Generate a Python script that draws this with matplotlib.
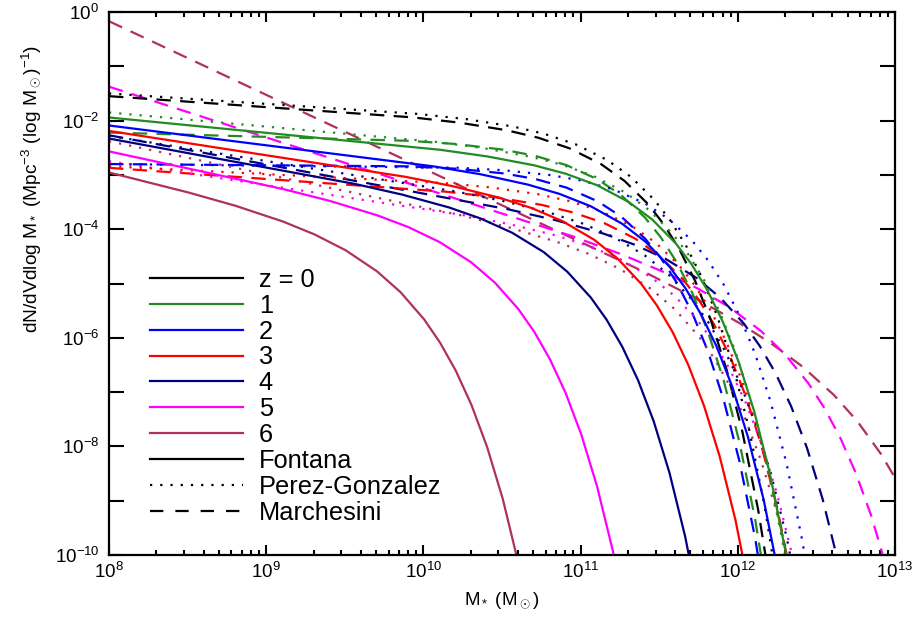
import numpy as np
import matplotlib
matplotlib.use("Agg")
import matplotlib.pyplot as plt
from matplotlib.ticker import LogLocator, NullLocator, FuncFormatter, NullFormatter
from matplotlib.lines import Line2D

plt.rcParams['font.family'] = ['Liberation Sans', 'DejaVu Sans']
plt.rcParams['mathtext.fontset'] = 'custom'
plt.rcParams['mathtext.rm'] = 'Liberation Sans'
plt.rcParams['mathtext.it'] = 'Liberation Sans:italic'
plt.rcParams['mathtext.bf'] = 'Liberation Sans:bold'

# ---------------- data (log10 M*, log10 phi) ----------------
redshift_labels = ['z = 0', '1', '2', '3', '4', '5', '6']
z_colors = ['#000000', '#228b22', '#0000ff', '#ff0000', '#000080', '#ff00ff', '#b03060']
survey_labels = ['Fontana', 'Perez-Gonzalez', 'Marchesini']

# Fontana (solid), z = 1..6
f1_logm = [8.0, 10.105, 10.405, 10.705, 10.905, 11.105, 11.305, 11.455, 11.605, 11.705, 11.805, 11.905, 12.005, 12.105, 12.205, 12.305, 12.405]
f1_logphi = [-1.943, -2.537, -2.659, -2.824, -2.978, -3.190, -3.497, -3.820, -4.260, -4.642, -5.116, -5.706, -6.442, -7.361, -8.512, -9.953, -11.762]
f2_logm = [8.0, 10.065, 10.365, 10.665, 10.865, 11.065, 11.265, 11.415, 11.565, 11.665, 11.765, 11.865, 11.965, 12.065, 12.165, 12.265]
f2_logphi = [-2.090, -2.843, -2.989, -3.179, -3.349, -3.578, -3.901, -4.236, -4.689, -5.079, -5.561, -6.159, -6.903, -7.830, -8.989, -10.439]
f3_logm = [8.0, 9.885, 10.185, 10.485, 10.685, 10.885, 11.085, 11.235, 11.385, 11.485, 11.585, 11.685, 11.785, 11.885, 11.985, 12.085]
f3_logphi = [-2.190, -3.035, -3.207, -3.421, -3.607, -3.852, -4.192, -4.539, -5.004, -5.403, -5.893, -6.499, -7.251, -8.187, -9.354, -10.812]
f4_logm = [8.0, 9.565, 9.865, 10.165, 10.365, 10.565, 10.765, 10.915, 11.065, 11.165, 11.265, 11.365, 11.465, 11.565, 11.665, 11.765]
f4_logphi = [-2.330, -3.167, -3.363, -3.601, -3.804, -4.066, -4.421, -4.782, -5.259, -5.665, -6.164, -6.778, -7.538, -8.482, -9.658, -11.124]
f5_logm = [8.0, 9.105, 9.405, 9.705, 9.905, 10.105, 10.305, 10.455, 10.605, 10.705, 10.805, 10.905, 11.005, 11.105, 11.205, 11.305]
f5_logphi = [-2.567, -3.259, -3.479, -3.743, -3.962, -4.240, -4.612, -4.985, -5.474, -5.889, -6.395, -7.018, -7.786, -8.739, -9.922, -11.397]
f6_logm = [8.0, 8.505, 8.805, 9.105, 9.305, 9.505, 9.705, 9.855, 10.005, 10.105, 10.205, 10.305, 10.405, 10.505, 10.605]
f6_logphi = [-2.955, -3.324, -3.569, -3.857, -4.093, -4.387, -4.776, -5.161, -5.662, -6.085, -6.600, -7.231, -8.008, -8.968, -10.160]

# Perez-Gonzalez (dotted), z = 0..6
p0_logm = [8.0, 9.97, 10.27, 10.57, 10.77, 10.97, 11.17, 11.32, 11.47, 11.57, 11.67, 11.77, 11.87, 11.97, 12.07, 12.17, 12.27]
p0_logphi = [-1.500, -1.878, -1.972, -2.109, -2.244, -2.439, -2.727, -3.036, -3.463, -3.835, -4.300, -4.881, -5.607, -6.517, -7.659, -9.091, -10.891]
p1_logm = [8.0, 10.085, 10.385, 10.685, 10.885, 11.085, 11.285, 11.435, 11.585, 11.685, 11.785, 11.885, 11.985, 12.085, 12.185, 12.285, 12.385]
p1_logphi = [-1.850, -2.393, -2.509, -2.667, -2.816, -3.024, -3.326, -3.646, -4.083, -4.463, -4.935, -5.522, -6.256, -7.173, -8.321, -9.761, -11.567]
p2_logm = [8.0, 10.21, 10.51, 10.81, 11.01, 11.21, 11.41, 11.56, 11.71, 11.81, 11.91, 12.01, 12.11, 12.21, 12.31, 12.41, 12.51]
p2_logphi = [-2.800, -2.867, -2.914, -3.004, -3.107, -3.269, -3.526, -3.811, -4.214, -4.571, -5.019, -5.584, -6.295, -7.189, -8.315, -9.731, -11.515]
p3_logm = [8.0, 10.127, 10.427, 10.727, 10.927, 11.127, 11.327, 11.477, 11.627, 11.727, 11.827, 11.927, 12.027, 12.127, 12.227, 12.327]
p3_logphi = [-2.840, -3.149, -3.230, -3.354, -3.480, -3.665, -3.944, -4.247, -4.666, -5.035, -5.495, -6.071, -6.793, -7.699, -8.836, -10.264]
p4_logm = [8.0, 10.21, 10.51, 10.81, 11.01, 11.21, 11.41, 11.56, 11.71, 11.81, 11.91, 12.01, 12.11, 12.21, 12.31, 12.41]
p4_logphi = [-2.280, -3.307, -3.483, -3.703, -3.893, -4.143, -4.486, -4.836, -5.304, -5.704, -6.196, -6.804, -7.558, -8.496, -9.665, -11.125]
p5_logm = [8.0, 10.25, 10.55, 10.85, 11.05, 11.25, 11.45, 11.60, 11.75, 11.85, 11.95, 12.05, 12.15, 12.25, 12.35, 12.45]
p5_logphi = [-2.750, -3.738, -3.908, -4.120, -4.305, -4.549, -4.887, -5.234, -5.698, -6.096, -6.585, -7.191, -7.943, -8.878, -10.044, -11.502]
p6_logm = [8.0, 10.25, 10.55, 10.85, 11.05, 11.25, 11.45, 11.60, 11.75, 11.85, 11.95, 12.05, 12.15, 12.25, 12.35]
p6_logphi = [-2.380, -3.751, -3.971, -4.234, -4.453, -4.732, -5.104, -5.476, -5.966, -6.380, -6.887, -7.510, -8.278, -9.230, -10.414]

# Marchesini (dashed), z = 0..6
m0_logm = [8.0, 9.93, 10.23, 10.53, 10.73, 10.93, 11.13, 11.28, 11.43, 11.53, 11.63, 11.73, 11.83, 11.93, 12.03, 12.13, 12.23]
m0_logphi = [-1.550, -1.940, -2.038, -2.178, -2.315, -2.511, -2.801, -3.112, -3.540, -3.914, -4.380, -4.961, -5.689, -6.600, -7.742, -9.176, -10.976]
m1_logm = [8.0, 9.91, 10.21, 10.51, 10.71, 10.91, 11.11, 11.26, 11.41, 11.51, 11.61, 11.71, 11.81, 11.91, 12.01, 12.11, 12.21]
m1_logphi = [-2.220, -2.372, -2.432, -2.536, -2.648, -2.820, -3.085, -3.378, -3.787, -4.149, -4.602, -5.171, -5.886, -6.785, -7.916, -9.337, -11.125]
m2_logm = [8.0, 9.91, 10.21, 10.51, 10.71, 10.91, 11.11, 11.26, 11.41, 11.51, 11.61, 11.71, 11.81, 11.91, 12.01, 12.11, 12.21]
m2_logphi = [-2.800, -2.843, -2.886, -2.972, -3.074, -3.234, -3.488, -3.772, -4.173, -4.529, -4.976, -5.540, -6.249, -7.142, -8.267, -9.683, -11.465]
m3_logm = [8.0, 10.15, 10.45, 10.75, 10.95, 11.15, 11.35, 11.50, 11.65, 11.75, 11.85, 11.95, 12.05, 12.15, 12.25, 12.35]
m3_logphi = [-2.870, -3.311, -3.410, -3.551, -3.690, -3.887, -4.178, -4.490, -4.918, -5.293, -5.759, -6.341, -7.069, -7.980, -9.123, -10.558]
m4_logm = [8.0, 10.54, 10.84, 11.14, 11.34, 11.54, 11.74, 11.89, 12.04, 12.14, 12.24, 12.34, 12.44, 12.54, 12.64]
m4_logphi = [-2.270, -3.634, -3.833, -4.076, -4.281, -4.545, -4.903, -5.265, -5.744, -6.152, -6.651, -7.267, -8.028, -8.974, -10.150]
m5_logm = [8.0, 10.95, 11.25, 11.55, 11.75, 11.95, 12.15, 12.30, 12.45, 12.55, 12.65, 12.75, 12.85, 12.95]
m5_logphi = [-1.375, -4.132, -4.452, -4.814, -5.099, -5.443, -5.881, -6.303, -6.842, -7.290, -7.830, -8.485, -9.287, -10.272]
m6_logm = [8.0, 11.41, 11.71, 12.01, 12.21, 12.41, 12.61, 12.76, 12.91, 13.01]
m6_logphi = [-0.170, -4.793, -5.239, -5.728, -6.098, -6.527, -7.050, -7.535, -8.137, -8.627]

# ---------------- figure ----------------
fig = plt.figure(figsize=(9.22, 6.24), dpi=100)
ax = fig.add_axes([109/922, 1-555/624, (895-109)/922, (555-12)/624])

LW = 1.6
DOT = (0, (1.0, 3.6))
DASH = (0, (6.5, 4.2))

curves = [
    (m6_logm, m6_logphi, 6, DASH), (m5_logm, m5_logphi, 5, DASH), (m4_logm, m4_logphi, 4, DASH),
    (m3_logm, m3_logphi, 3, DASH), (m2_logm, m2_logphi, 2, DASH), (m1_logm, m1_logphi, 1, DASH),
    (m0_logm, m0_logphi, 0, DASH),
    (p6_logm, p6_logphi, 6, DOT), (p5_logm, p5_logphi, 5, DOT), (p4_logm, p4_logphi, 4, DOT),
    (p3_logm, p3_logphi, 3, DOT), (p2_logm, p2_logphi, 2, DOT), (p1_logm, p1_logphi, 1, DOT),
    (p0_logm, p0_logphi, 0, DOT),
    (f6_logm, f6_logphi, 6, '-'), (f5_logm, f5_logphi, 5, '-'), (f4_logm, f4_logphi, 4, '-'),
    (f3_logm, f3_logphi, 3, '-'), (f2_logm, f2_logphi, 2, '-'), (f1_logm, f1_logphi, 1, '-'),
]
for lm, lp, zi, ls in curves:
    ax.plot(10**np.asarray(lm), 10**np.asarray(lp), color=z_colors[zi], lw=LW, linestyle=ls)

ax.set_xscale('log')
ax.set_yscale('log')
ax.set_xlim(1e8, 1e13)
ax.set_ylim(1e-10, 1e0)

ax.xaxis.set_major_locator(LogLocator(base=10, numticks=20))
ax.xaxis.set_minor_locator(LogLocator(base=10, subs=np.arange(2, 10), numticks=100))
ax.xaxis.set_minor_formatter(NullFormatter())
ax.xaxis.set_major_formatter(FuncFormatter(lambda v, p: r'$10^{%d}$' % int(round(np.log10(v)))))
ax.yaxis.set_major_locator(LogLocator(base=10, subs=(1.0,), numticks=30))
ax.yaxis.set_minor_locator(NullLocator())

def yfmt(v, p):
    e = int(round(np.log10(v)))
    return r'$10^{%d}$' % e if e % 2 == 0 else ''
ax.yaxis.set_major_formatter(FuncFormatter(yfmt))

ax.tick_params(which='both', direction='in', top=True, right=True, width=1.5, labelsize=13.5)
ax.tick_params(axis='x', which='major', length=7.5, pad=5)
ax.tick_params(axis='x', which='minor', length=3.6)
ax.tick_params(axis='y', which='major', length=11, pad=7)
for s in ax.spines.values():
    s.set_linewidth(1.6)

ax.set_xlabel(r'M$_*$ (M$_\odot$)', fontsize=13.5)
ax.xaxis.set_label_coords(0.5, -0.066)
ax.set_ylabel(r'dN/dVdlog M$_*$ (Mpc$^{-3}$ (log M$_\odot$)$^{-1}$)', fontsize=13.8)
ax.yaxis.set_label_coords(-0.084, 0.675)

handles = [Line2D([], [], color=c, lw=LW) for c in z_colors]
handles += [Line2D([], [], color='k', lw=LW, linestyle='-'),
            Line2D([], [], color='k', lw=LW, linestyle=DOT),
            Line2D([], [], color='k', lw=LW, linestyle=(0, (6.0, 5.4)))]
leg = ax.legend(handles, redshift_labels + survey_labels, loc='upper left',
                bbox_to_anchor=(0.052, 0.529), frameon=False, fontsize=18.3,
                handlelength=3.66, handletextpad=0.62, labelspacing=0.075,
                borderpad=0, borderaxespad=0)

fig.savefig('out.png', dpi=100)
